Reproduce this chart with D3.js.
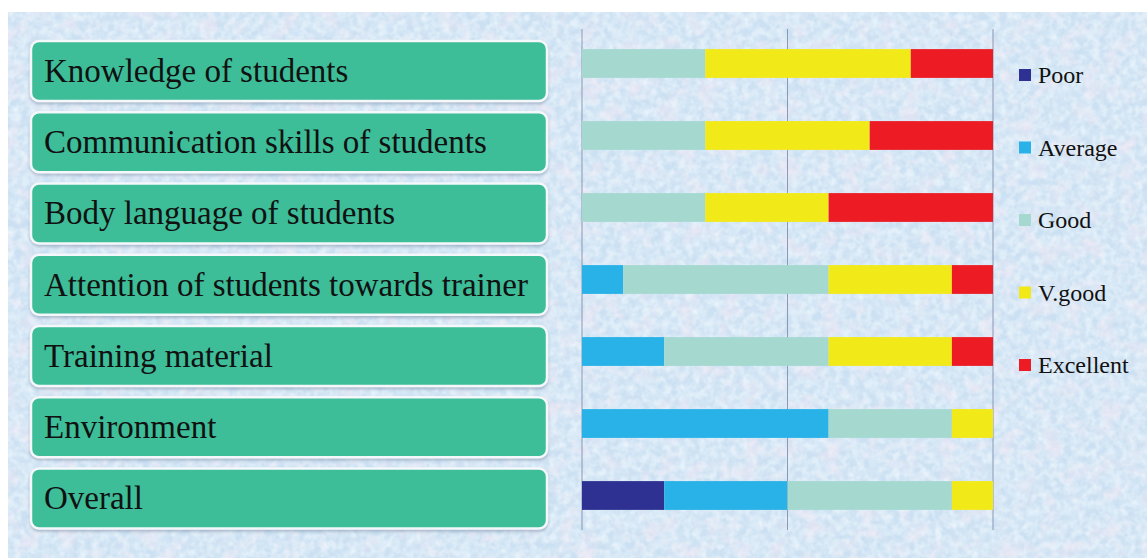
<!DOCTYPE html>
<html>
<head>
<meta charset="utf-8">
<script src="https://cdn.jsdelivr.net/npm/d3@7"></script>
<style>
html,body{margin:0;padding:0;background:#fff;}
svg{display:block;}
</style>
</head>
<body>
<svg id="chart" width="1147" height="558"></svg>
<script>
const categories = [
  "Knowledge of students",
  "Communication skills of students",
  "Body language of students",
  "Attention of students towards trainer",
  "Training material",
  "Environment",
  "Overall"
];
const seriesNames = ["Poor", "Average", "Good", "V.good", "Excellent"];
const poor      = [0, 0, 0, 0, 0, 0, 20];
const average   = [0, 0, 0, 10, 20, 60, 30];
const good      = [30, 30, 30, 50, 40, 30, 40];
const vgood     = [50, 40, 30, 30, 30, 10, 10];
const excellent = [20, 30, 40, 10, 10, 0, 0];
const colors = ["#2e3192", "#29b2e8", "#a5d9d0", "#f2e918", "#ed1c24"];
const gridTicks = [0, 50, 100];

const svg = d3.select("#chart");
const W = 1147, H = 558;

// background texture
const defs = svg.append("defs");
const f = defs.append("filter").attr("id","noise").attr("x",0).attr("y",0).attr("width","100%").attr("height","100%");
f.append("feTurbulence").attr("type","fractalNoise").attr("baseFrequency","0.05").attr("numOctaves",4).attr("seed",7).attr("result","t");
f.append("feColorMatrix").attr("in","t").attr("type","matrix")
  .attr("values","0 0 0 0 0.90  0 0 0 0 0.80  0 0 0 0 0.90  1.5 0 0 0 -0.72").attr("result","pink");
f.append("feTurbulence").attr("type","fractalNoise").attr("baseFrequency","0.1").attr("numOctaves",3).attr("seed",3).attr("result","t2");
f.append("feColorMatrix").attr("in","t2").attr("type","matrix")
  .attr("values","0 0 0 0 0.74  0 0 0 0 0.86  0 0 0 0 0.96  0 1.4 0 0 -0.55").attr("result","blue");
f.append("feTurbulence").attr("type","fractalNoise").attr("baseFrequency","0.14").attr("numOctaves",2).attr("seed",11).attr("result","t3");
f.append("feColorMatrix").attr("in","t3").attr("type","matrix")
  .attr("values","0 0 0 0 0.88  0 0 0 0 0.95  0 0 0 0 0.99  0 0 1.4 0 -0.5").attr("result","light");
f.append("feMerge").selectAll("feMergeNode").data(["SourceGraphic","blue","light","pink"]).join("feMergeNode").attr("in",d=>d);

svg.append("rect").attr("x",8).attr("y",12).attr("width",W-8).attr("height",H-12)
  .attr("fill","#cbe0f2").attr("filter","url(#noise)");

const sh = defs.append("filter").attr("id","sh").attr("x","-5%").attr("y","-20%").attr("width","110%").attr("height","150%");
sh.append("feDropShadow").attr("dx",0).attr("dy",2).attr("stdDeviation",1.5).attr("flood-color","#6a7f9a").attr("flood-opacity",0.45);

// scales
const x = d3.scaleLinear().domain([0,100]).range([582,993]);
const y = d3.scaleBand().domain(categories).range([27.5,531.5]).paddingInner(0.6).paddingOuter(0.3);
const yBox = d3.scaleBand().domain(categories).range([35.4,534.1]).paddingInner(0.158).paddingOuter(0.079);

// gridlines
svg.append("g").selectAll("line").data(gridTicks).join("line")
  .attr("x1",d=>x(d)).attr("x2",d=>x(d)).attr("y1",29).attr("y2",530)
  .attr("stroke","#8c98b4").attr("stroke-width",1);

// stacked bars
const table = categories.map((c,i)=>({cat:c, Poor:poor[i], Average:average[i], Good:good[i], "V.good":vgood[i], Excellent:excellent[i]}));
const stacked = d3.stack().keys(seriesNames)(table);
svg.append("g").selectAll("g").data(stacked).join("g")
  .attr("fill",(d,i)=>colors[i])
  .selectAll("rect").data(d=>d).join("rect")
  .attr("x",d=>x(d[0])).attr("width",d=>x(d[1])-x(d[0]))
  .attr("y",d=>y(d.data.cat)).attr("height",y.bandwidth());

// label boxes
const boxes = svg.append("g").selectAll("g").data(categories).join("g");
boxes.append("rect")
  .attr("x",31).attr("width",516)
  .attr("y",d=>yBox(d)).attr("height",yBox.bandwidth())
  .attr("rx",8).attr("ry",8)
  .attr("fill","#3dbd98").attr("stroke","#f4f8fb").attr("stroke-width",2.5)
  .attr("filter","url(#sh)");
boxes.append("text")
  .attr("x",44).attr("y",d=>yBox(d)+yBox.bandwidth()/2)
  .attr("dy","0.33em")
  .attr("font-family","'Liberation Serif', 'Times New Roman', serif")
  .attr("font-size",33).attr("fill","#111")
  .text(d=>d);

// legend
const leg = svg.append("g").selectAll("g").data(seriesNames).join("g")
  .attr("transform",(d,i)=>`translate(1019,${75+i*72.5})`);
leg.append("rect").attr("x",0).attr("y",-6).attr("width",12).attr("height",12).attr("fill",(d,i)=>colors[i]);
leg.append("text").attr("x",19).attr("y",0).attr("dy","0.35em")
  .attr("font-family","'Liberation Serif', 'Times New Roman', serif")
  .attr("font-size",24).attr("fill","#111").text(d=>d);
</script>
</body>
</html>
